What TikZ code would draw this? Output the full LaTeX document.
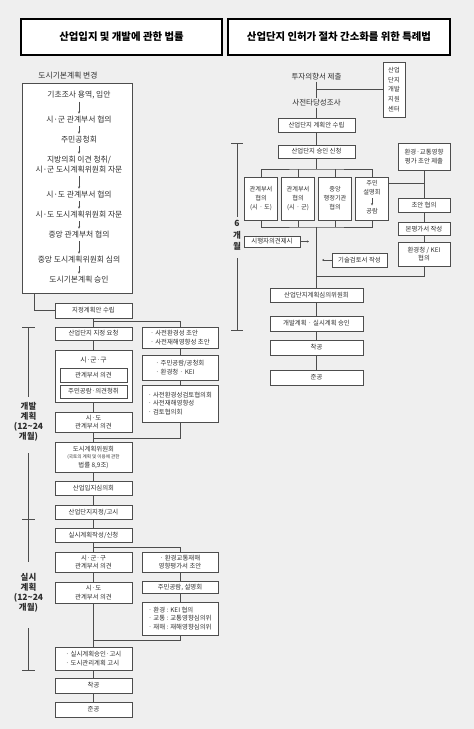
\documentclass[tikz,border=0pt]{standalone}
\usepackage{fontspec}
\setmainfont{Noto Sans CJK KR}
\usetikzlibrary{arrows.meta}
\definecolor{bggray}{HTML}{EFEFEF}
\definecolor{linegray}{HTML}{4D4D4D}
\definecolor{txtgray}{HTML}{2E2E2E}
\newcommand{\kfs}[2]{\fontsize{#1}{#2}\selectfont}
\begin{document}
\begin{tikzpicture}[x=1pt,y=-1pt,
    box/.style={draw=linegray, line width=0.7pt, fill=white, text=txtgray, align=center, inner sep=1pt, font=\kfs{6.4}{8.5}},
    lbox/.style={box, minimum width=77pt},
    rbox/.style={box, minimum width=76pt, align=left},
    qbox/.style={box, minimum width=33pt, minimum height=43pt, font=\kfs{6.2}{9}},
    ebox/.style={box, minimum width=52pt},
    ttl/.style={draw=black, line width=1.8pt, fill=white, text=black, font=\kfs{10.4}{12}\bfseries, minimum height=36pt},
    btxt/.style={text=txtgray, inner sep=1pt, font=\kfs{7.8}{10}, align=center},
    link/.style={draw=linegray, line width=0.7pt},
    arr/.style={link, -{Stealth[length=2.4pt,width=2.2pt]}, shorten <=1.5pt, shorten >=1.5pt},
    tip/.style={link, -{Stealth[length=2.2pt,width=2.2pt]}},
    bar/.style={draw=linegray, line width=1pt},
    per/.style={text=txtgray, font=\kfs{8.5}{10}\bfseries, align=center}
  ]
  \fill[bggray] (0,0) rectangle (474,729);
  \useasboundingbox (0,0) rectangle (474,729);

  % titles
  \node[ttl, minimum width=201pt] (law1) at (121.5,37) {산업입지 및 개발에 관한 법률};
  \node[ttl, minimum width=222pt] (law2) at (339,37) {산업단지 인허가 절차 간소화를 위한 특례법};

  % left: city basic plan
  \node[btxt] (plan) at (68,76) {도시기본계획 변경};
  \node[box, minimum width=110pt, minimum height=210pt] (bigbox) at (77,188) {};
  \node[btxt] (b1) at (79,95) {기초조사 용역, 입안};
  \node[btxt] (b2) at (79,120) {시·군 관계부서 협의};
  \node[btxt] (b3) at (79,140) {주민공청회};
  \node[btxt] (b4) at (79,165) {지방의회 이견 청취/\\시·군 도시계획위원회 자문};
  \node[btxt] (b5) at (79,195) {시·도 관계부서 협의};
  \node[btxt] (b6) at (79,215) {시·도 도시계획위원회 자문};
  \node[btxt] (b7) at (79,235) {중앙 관계부처 협의};
  \node[btxt] (b8) at (79,260) {중앙 도시계획위원회 심의};
  \node[btxt] (b9) at (79,280) {도시기본계획 승인};
  \foreach \a/\b in {1/2,2/3,3/4,4/5,5/6,6/7,7/8,8/9}
    \draw[arr] (b\a) -- (b\b);

  % left: main column
  \node[lbox, minimum height=15pt] (desig) at (93.5,310.5) {지정계획안 수립};
  \node[lbox, minimum height=13pt] (req) at (93.5,333.5) {산업단지 지정 요청};
  \node[lbox, minimum height=52pt] (sgg1) at (93.5,376) {};
  \node[btxt, font=\kfs{6.8}{8.5}] (sgg1t) at (93.5,360) {시·군·구};
  \node[box, minimum width=67pt, minimum height=14pt] (sgg1a) at (93.5,375) {관계부서 의견};
  \node[box, minimum width=67pt, minimum height=13pt] (sgg1b) at (93.5,391.5) {주민공람·의견청취};
  \node[lbox, minimum height=20pt] (sido1) at (93.5,422) {시·도\\관계부서 의견};
  \node[lbox, minimum height=30pt] (ucc) at (93.5,457) {도시계획위원회\\[-1pt]\kfs{4.6}{6.5}(국토의 계획 및 이용에 관한\\법률 8,9조)};
  \node[lbox, minimum height=14pt] (sic) at (93.5,488) {산업입지심의회};
  \node[lbox, minimum height=14pt] (notice) at (93.5,512) {산업단지지정/고시};
  \node[lbox, minimum height=14pt] (exec) at (93.5,535) {실시계획작성/신청};
  \node[lbox, minimum height=20pt] (sgg2) at (93.5,562) {시·군·구\\관계부서 의견};
  \node[lbox, minimum height=21pt] (sido2) at (93.5,592.5) {시·도\\관계부서 의견};
  \node[lbox, minimum height=23pt, align=left] (appr1) at (93.5,658.5) {· 실시계획승인·고시\\· 도시관리계획 고시};
  \node[lbox, minimum height=15pt] (start1) at (93.5,685.5) {착공};
  \node[lbox, minimum height=15pt] (done1) at (93.5,709.5) {준공};

  % left: side column
  \node[rbox, minimum height=21pt] (pre1) at (180,337.5) {· 사전환경성 초안\\· 사전재해영향성 초안};
  \node[rbox, minimum height=25pt] (pre2) at (180,367.5) {· 주민공람/공청회\\· 환경청 · KEI};
  \node[rbox, minimum height=37pt] (pre3) at (180,403.5) {· 사전환경성검토협의회\\· 사전재해영향성\\· 검토협의회};
  \node[rbox, minimum height=20pt, align=center] (eia1) at (180,562) {· 환경교통재해\\영향평가서 초안};
  \node[rbox, minimum height=12pt, align=center] (eia2) at (180,587) {주민공람, 설명회};
  \node[rbox, minimum height=33pt] (eia3) at (180,618.5) {· 환경 : KEI 협의\\· 교통 : 교통영향심의위\\· 재해 : 재해영향심의위};

  \coordinate (back1) at (93.5,438);
  \coordinate (back2) at (93.5,640);

  \draw[link] ([xshift=13pt]bigbox.south west) |- (desig.west);
  \draw[link] (desig) -- (req) -- (sgg1) -- (sido1) -- (ucc) -- (sic) -- (notice) -- (exec)
    -- (sgg2) -- (sido2) -- (appr1) -- (start1) -- (done1);
  \draw[link] (desig.south) -- ++(0,3) -| (pre1.north);
  \draw[link] (pre1) -- (pre2) -- (pre3);
  \draw[link] (pre3.south) |- (back1);
  \draw[link] (exec.south) -- ++(0,5) -| (eia1.north);
  \draw[link] (eia1) -- (eia2) -- (eia3);
  \draw[link] (eia3.south) |- (back2);

  % left: periods
  \draw[bar] (22,327) -- (35,327);
  \draw[bar] (28.5,327) -- (28.5,397);
  \node[per] (dev) at (28.5,422) {개발\\계획\\(12\textasciitilde 24\\개월)};
  \draw[bar] (28.5,453) -- (28.5,562);
  \draw[bar] (22,519) -- (35,519);
  \node[per] (impl) at (28.5,593) {실시\\계획\\(12\textasciitilde 24\\개월)};
  \draw[bar] (28.5,628) -- (28.5,670);
  \draw[bar] (22,670) -- (35,670);

  % right: special act
  \node[btxt, font=\kfs{7.5}{9}] (invest) at (316.5,77) {투자의향서 제출};
  \node[btxt, font=\kfs{7.5}{9}] (feas) at (316.5,103) {사전타당성조사};
  \node[box, minimum width=22pt, minimum height=55pt, font=\kfs{6.3}{9.8}] (center) at (394,89.5) {산업\\단지\\개발\\지원\\센터};
  \node[lbox, minimum height=14pt] (ipl) at (316.5,125) {산업단지 계획안 수립};
  \node[lbox, minimum height=13pt] (apply) at (316.5,151.5) {산업단지 승인 신청};
  \node[qbox] (q1) at (261,198.5) {관계부서\\협의\\(시 · 도)};
  \node[qbox] (q2) at (298,198.5) {관계부서\\협의\\(시 · 군)};
  \node[qbox] (q3) at (335,198.5) {중앙\\행정기관\\협의};
  \node[qbox] (q4) at (372,198.5) {};
  \node[btxt, font=\kfs{6.2}{9}] (q4a) at (372,188) {주민\\설명회};
  \node[btxt, font=\kfs{6.2}{9}] (q4b) at (372,211) {공람};
  \node[ebox, minimum height=27pt] (env) at (424,156.5) {환경·교통영향\\평가 초안 제출};
  \node[ebox, minimum height=14pt] (draft) at (424,205.5) {초안 협의};
  \node[ebox, minimum height=13pt] (mainrep) at (424,229) {본평가서 작성};
  \node[ebox, minimum height=24pt] (keiok) at (424,254) {환경청 / KEI\\협의};
  \node[box, minimum width=56pt, minimum height=11pt] (opin) at (272,241.5) {시행자의견제시};
  \node[box, minimum width=55pt, minimum height=14pt] (tech) at (359.5,260) {기술검토서 작성};
  \node[box, minimum width=93pt, minimum height=14pt] (sim) at (316.5,295) {산업단지계획심의위원회};
  \node[box, minimum width=93pt, minimum height=15pt] (ok) at (316.5,323.5) {개발계획 · 실시계획 승인};
  \node[box, minimum width=93pt, minimum height=15pt] (start2) at (316.5,347.5) {착공};
  \node[box, minimum width=93pt, minimum height=15pt] (done2) at (316.5,377.5) {준공};

  \coordinate (fork) at (316.5,169);
  \coordinate (join) at (316.5,227);
  \coordinate (back3) at (316.5,276);
  \coordinate (q4r) at ([yshift=-7pt]q4.north east);
  \coordinate (opinend) at (309,241.5);
  \coordinate (techend) at (322,260);

  \draw[link] (invest) -- (feas) -- (ipl) -- (apply) -- (fork);
  \draw[link] (center.west) -- (center.west -| invest.south);
  \draw[link] (q1.north) |- (fork) -| (q4.north);
  \draw[link] (q2.north) -- (q2.north |- fork);
  \draw[link] (q3.north) -- (q3.north |- fork);
  \draw[link] (q1.south) |- (join) -| (q4.south);
  \draw[link] (q2.south) -- (q2.south |- join);
  \draw[link] (q3.south) -- (q3.south |- join);
  \draw[arr] (q4a) -- (q4b);
  \draw[link] (q4r) -- (q4r -| env.south);
  \draw[link] (env) -- (draft) -- (mainrep) -- (keiok);
  \draw[link] (keiok.south) |- (back3);
  \draw[tip] (opin) -- (opinend);
  \draw[tip] (tech) -- (techend);
  \draw[link] (join) -- (sim);
  \draw[link] (sim) -- (ok) -- (start2) -- (done2);

  % right: period
  \draw[bar] (231,143) -- (243,143);
  \draw[bar] (237,143) -- (237,217);
  \node[per, font=\kfs{8.5}{11.5}\bfseries] (six) at (237,235.5) {6\\개\\월};
  \draw[bar] (237,258) -- (237,330);
  \draw[bar] (231,330) -- (243,330);
\end{tikzpicture}
\end{document}
